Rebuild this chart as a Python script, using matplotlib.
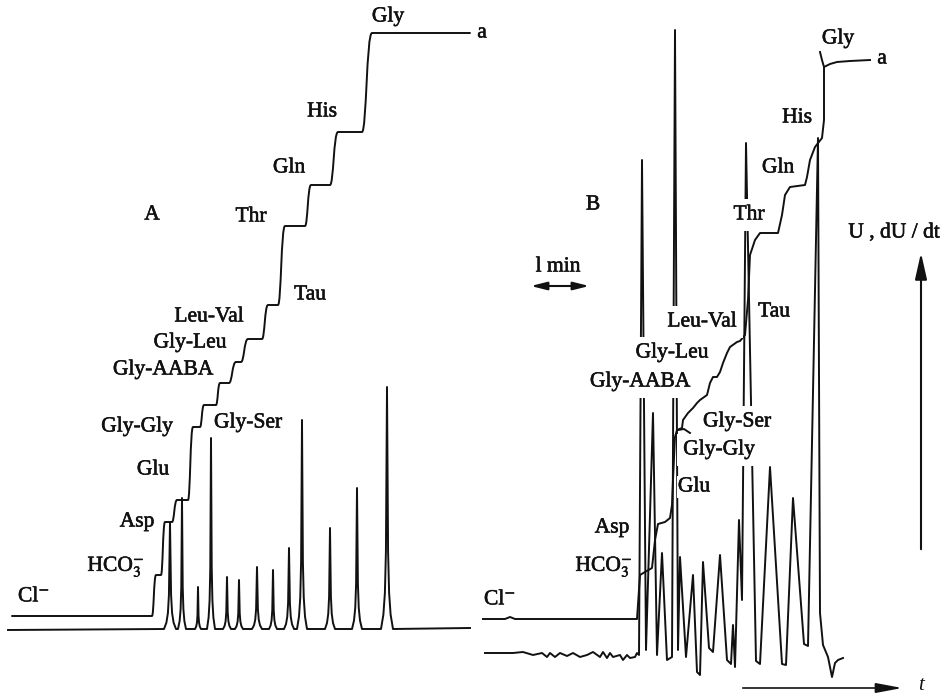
import matplotlib.pyplot as plt
import matplotlib.patheffects as pe
from matplotlib.path import Path
from matplotlib.patches import PathPatch
import numpy as np

plt.rcParams['font.family'] = ['Liberation Serif', 'DejaVu Serif']
plt.rcParams['mathtext.fontset'] = 'stix'

# ---- panel A: integral trace U, one plateau per zone (start x, end x, level)
a_zone_x0 = [12, 156, 165, 177, 193, 204, 220, 236, 248, 268, 285, 311, 338, 372]
a_zone_x1 = [152, 161, 172, 188, 200, 216, 229, 241, 262, 278, 305, 330, 362, 470]
a_zone_u = [616, 575, 522, 500, 427, 405, 383, 362, 339, 305, 226, 185, 132, 33]

# ---- panel A: derivative trace dU/dt, spikes (position, top, half base width)
a_peak_x = [170, 182, 198, 211, 227, 239, 257, 273, 289, 302, 330, 357, 387]
a_peak_top = [523, 498, 587, 438, 577, 580, 567, 570, 548, 420, 528, 488, 387]
a_peak_half = [6, 4, 3, 4, 4, 4, 5, 4, 5, 5, 5, 5, 6]
a_base = 629

# ---- panel B: integral trace U
b_u_x = [483, 505, 510, 515, 637, 640, 645, 652, 655, 658, 665, 670, 672, 673,
         675, 677, 682, 683, 688, 693, 697, 700, 707, 710, 713, 717, 720, 723,
         727, 730, 737, 740, 745, 748, 750, 755, 760, 778, 782, 785, 790, 805,
         807, 810, 815, 822, 824, 824]
b_u_y = [619, 619, 617, 619, 619, 575, 572, 568, 540, 524, 522, 518, 505, 480,
         437, 430, 428, 420, 413, 408, 403, 400, 395, 383, 377, 377, 372, 363,
         353, 347, 342, 341, 335, 300, 255, 240, 233, 233, 215, 195, 187, 185,
         177, 160, 147, 138, 120, 67]
b_hook1_x = [678, 684, 690]
b_hook1_y = [430, 429, 433]
b_hook2_x = [820, 822, 824, 830, 837, 850, 870]
b_hook2_y = [52, 60, 67, 64, 62, 61, 60]

# ---- panel B: derivative trace dU/dt (noisy baseline, then peaks / valleys)
b_d_x = [485, 513, 523, 533, 542, 547, 550, 555, 560, 567, 573, 580, 587, 593,
         600, 603, 607, 610, 613, 620, 623, 627, 630, 635, 637,
         639, 642, 646, 653, 657, 662, 667, 672, 675, 678, 680, 686, 693, 697,
         700, 703, 709, 713, 720, 727, 731, 733, 735, 739, 742, 746, 756, 760,
         770, 782, 786, 793, 804, 808,
         818, 820, 823, 828, 832, 835, 838, 843]
b_d_y = [653, 653, 652, 655, 653, 657, 653, 657, 653, 656, 653, 657, 655, 652,
         657, 652, 658, 653, 657, 655, 660, 655, 658, 657, 653,
         655, 160, 650, 413, 655, 553, 660, 657, 30, 650, 557, 657, 575, 672,
         675, 562, 648, 652, 555, 660, 664, 625, 667, 520, 600, 143, 661, 664,
         467, 664, 665, 498, 644, 646,
         138, 613, 645, 657, 677, 663, 660, 658]

# labels: text, x, y, whether the label breaks the trace lines behind it
labels = [
    ('Gly', 388, 17, False), ('a', 482, 33, False), ('His', 322, 112, False),
    ('Gln', 289, 168, False), ('A', 152, 215, False), ('Thr', 251, 217, False),
    ('Tau', 310, 295, False), ('Leu-Val', 209, 317, False),
    ('Gly-Leu', 190, 343, False), ('Gly-AABA', 163, 370, False),
    ('Gly-Gly', 137, 427, False), ('Gly-Ser', 248, 423, False),
    ('Glu', 153, 470, False), ('Asp', 137, 522, False),
    (r'HCO$_3^{-}$', 116, 567, False), (r'Cl$^{-}$', 34, 597, False),
    ('Gly', 838, 39, False), ('a', 882, 59, False), ('His', 797, 118, False),
    ('Gln', 778, 168, False), ('B', 593, 205, False), ('Thr', 749, 215, True),
    ('Tau', 774, 312, False), ('Leu-Val', 702, 322, True),
    ('Gly-Leu', 672, 353, True), ('Gly-AABA', 640, 382, True),
    ('Gly-Ser', 737, 422, True), ('Gly-Gly', 719, 450, True),
    ('Glu', 694, 487, False), ('Asp', 612, 528, False),
    (r'HCO$_3^{-}$', 604, 567, False), (r'Cl$^{-}$', 500, 600, False),
    ('U , dU / dt', 894, 233, False), ('l min', 558, 267, False),
]

LW = 1.4
INK = '#111111'
heavy = [pe.withStroke(linewidth=0.4, foreground=INK)]

fig = plt.figure(figsize=(9.4, 6.94), dpi=100)
ax = fig.add_axes([0, 0, 1, 1])
ax.set_xlim(0, 940)
ax.set_ylim(694, 0)
ax.axis('off')

# A integral: plateaus joined by S-shaped steps
verts = [(a_zone_x0[0], a_zone_u[0]), (a_zone_x1[0], a_zone_u[0])]
codes = [Path.MOVETO, Path.LINETO]
for i in range(1, len(a_zone_u)):
    x1, y1 = a_zone_x1[i - 1], a_zone_u[i - 1]
    x2, y2 = a_zone_x0[i], a_zone_u[i]
    xm = x1 + 0.45 * (x2 - x1)
    verts += [(xm, y1), (xm, y2), (x2, y2), (a_zone_x1[i], y2)]
    codes += [Path.CURVE4, Path.CURVE4, Path.CURVE4, Path.LINETO]
ax.add_patch(PathPatch(Path(verts, codes), fill=False, lw=LW, edgecolor=INK,
                       capstyle='round', joinstyle='round'))

# A derivative: cusp shaped spikes on a flat baseline
shape_u = np.array([-1, -0.6, -0.35, -0.18, -0.06, 0, 0.06, 0.18, 0.35, 0.6, 1])
shape_f = np.array([0, 0.06, 0.15, 0.32, 0.75, 1, 0.75, 0.32, 0.15, 0.06, 0])
dx = [8]
dy = [630]
for x0, top, h in zip(a_peak_x, a_peak_top, a_peak_half):
    dx += list(x0 + shape_u * h)
    dy += list(a_base - shape_f * (a_base - top))
dx.append(470)
dy.append(628)
ax.plot(dx, dy, color=INK, lw=LW, solid_joinstyle='round')

# B traces
ax.plot(b_u_x, b_u_y, color=INK, lw=LW, solid_joinstyle='round')
ax.plot(b_hook1_x, b_hook1_y, color=INK, lw=LW)
ax.plot(b_hook2_x, b_hook2_y, color=INK, lw=LW)
ax.plot(b_d_x, b_d_y, color=INK, lw=LW, solid_joinstyle='round')

# labels; a white box underneath breaks the traces, as in the print
for txt, x, y, brk in labels:
    pad = 0.3 if brk else 0.05
    ax.text(x, y, txt, ha='center', va='center', fontsize=15.5, color='white',
            zorder=4, bbox=dict(boxstyle='square,pad=%s' % pad, fc='white', ec='none'))
    ax.text(x, y, txt, ha='center', va='center', fontsize=15.5, color=INK,
            zorder=5, path_effects=heavy)

# axis arrows and time scale
ax.annotate('', xy=(921, 250), xytext=(921, 552),
            arrowprops=dict(arrowstyle='-|>,head_length=0.8,head_width=0.18',
                            lw=1.5, color=INK, mutation_scale=20))
ax.annotate('', xy=(905, 688), xytext=(740, 688),
            arrowprops=dict(arrowstyle='-|>,head_length=0.8,head_width=0.15',
                            lw=1.2, color=INK, mutation_scale=20))
ax.annotate('', xy=(528, 286), xytext=(592, 286),
            arrowprops=dict(arrowstyle='<|-|>,head_length=0.6,head_width=0.15',
                            lw=1.5, color=INK, mutation_scale=16))
ax.text(918, 686, 't', fontsize=15, style='italic', ha='left', va='center',
        color=INK)

plt.savefig('out.png', dpi=100)
